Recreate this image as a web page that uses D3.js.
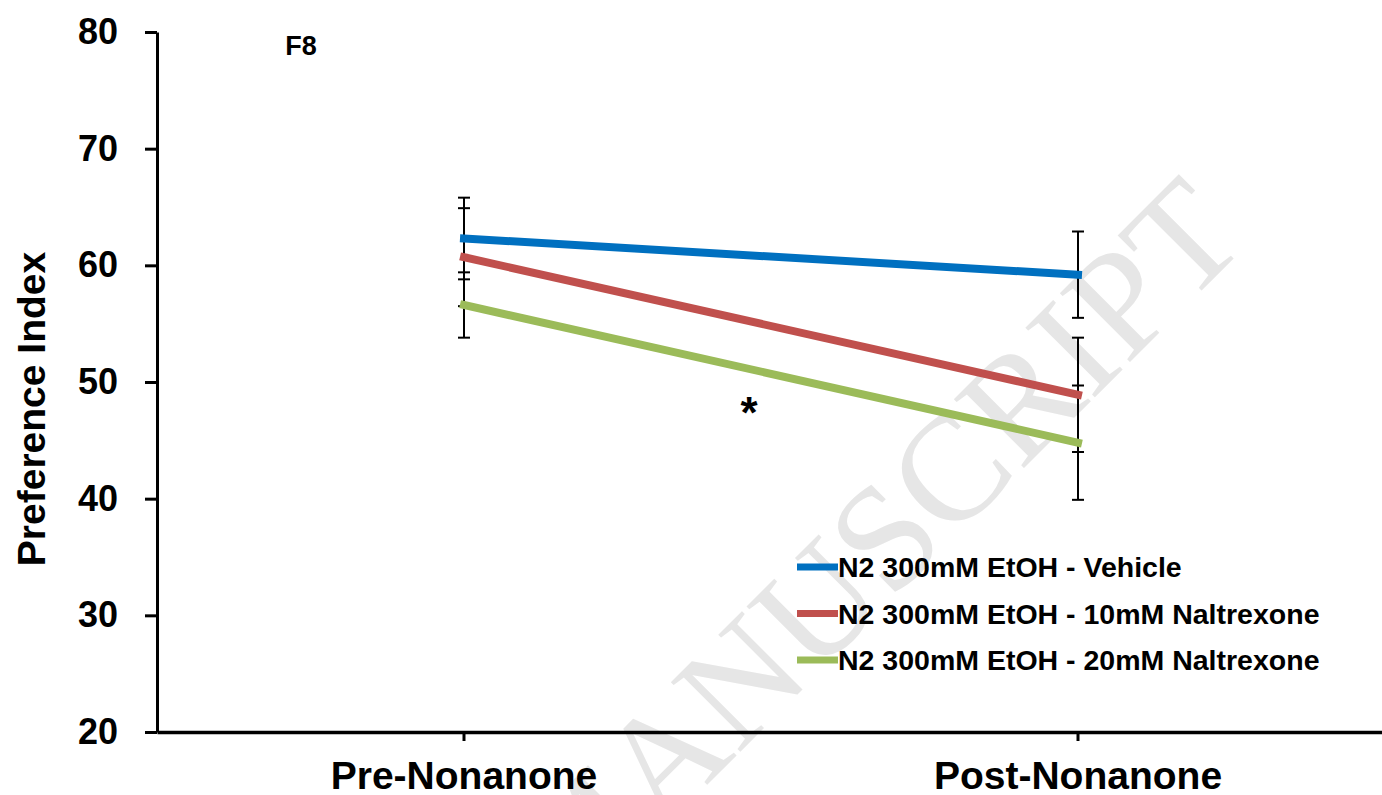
<!DOCTYPE html>
<html>
<head>
<meta charset="utf-8">
<script src="https://cdn.jsdelivr.net/npm/d3@7"></script>
<style>
  html, body { margin: 0; padding: 0; background: #fff; }
  svg { display: block; }
  text { font-family: "Liberation Sans", Arial, sans-serif; font-weight: bold; }
</style>
</head>
<body>
<svg id="chart" width="1382" height="795"></svg>
<script>
// ---- data ----
const categories = ["Pre-Nonanone", "Post-Nonanone"];
const seriesNames = [
  "N2 300mM EtOH - Vehicle",
  "N2 300mM EtOH - 10mM Naltrexone",
  "N2 300mM EtOH - 20mM Naltrexone"
];
const vehicleValues = [62.3, 59.2];
const vehicleErrors = [3.5, 3.7];
const nal10Values = [60.7, 48.9];
const nal10Errors = [4.2, 4.9];
const nal20Values = [56.6, 44.8];
const nal20Errors = [2.8, 4.9];
const yTickValues = [20, 30, 40, 50, 60, 70, 80];
const yTitle = "Preference Index";
const panelLabel = "F8";
const sigMark = "*";
const watermarkText = "ACCEPTED MANUSCRIPT";

const colors = ["#0070C0", "#C0504D", "#9BBB59"];
const series = [
  { name: seriesNames[0], values: vehicleValues, errors: vehicleErrors, color: colors[0] },
  { name: seriesNames[1], values: nal10Values, errors: nal10Errors, color: colors[1] },
  { name: seriesNames[2], values: nal20Values, errors: nal20Errors, color: colors[2] }
];

const svg = d3.select("#chart");

// scales
const x = d3.scaleBand().domain(categories).range([157, 1385]).padding(0);
const cx = c => x(c) + x.bandwidth() / 2;
const y = d3.scaleLinear().domain([20, 80]).range([732, 32]);

// watermark
svg.append("text")
  .attr("transform", "translate(1250,242) rotate(-45)")
  .attr("text-anchor", "end")
  .style("font-family", "'Liberation Serif', 'Times New Roman', serif")
  .style("font-weight", "normal")
  .style("font-size", "150px")
  .attr("fill", "#e6e6e6")
  .text(watermarkText);

// y axis
const yAxis = svg.append("g")
  .attr("transform", "translate(157,0)")
  .call(d3.axisLeft(y).tickValues(yTickValues).tickSize(12).tickSizeOuter(0).tickPadding(27));
yAxis.select(".domain").attr("stroke", "#000").attr("stroke-width", 3);
yAxis.selectAll(".tick line").attr("stroke", "#000").attr("stroke-width", 3);
yAxis.selectAll(".tick text")
  .attr("fill", "#000")
  .style("font-size", "36px")
  .style("font-family", "'Liberation Sans', Arial, sans-serif")
  .style("font-weight", "bold");

// x axis
const xAxis = svg.append("g")
  .attr("transform", "translate(0,732)")
  .call(d3.axisBottom(x).tickSize(9).tickSizeOuter(0).tickPadding(20));
xAxis.select(".domain").attr("stroke", "#000").attr("stroke-width", 3.5);
xAxis.selectAll(".tick line").attr("stroke", "#000").attr("stroke-width", 3);
xAxis.selectAll(".tick text")
  .attr("fill", "#000")
  .style("font-size", "39px")
  .style("font-family", "'Liberation Sans', Arial, sans-serif")
  .style("font-weight", "bold");

// y title
svg.append("text")
  .attr("transform", "translate(45,409) rotate(-90)")
  .attr("text-anchor", "middle")
  .style("font-size", "39px")
  .attr("fill", "#000")
  .text(yTitle);

// panel label
svg.append("text")
  .attr("x", 301).attr("y", 55)
  .attr("text-anchor", "middle")
  .style("font-size", "27px")
  .attr("fill", "#000")
  .text(panelLabel);

// error bars
const capHalf = 6;
series.forEach(s => {
  const g = svg.append("g");
  categories.forEach((c, i) => {
    const xc = cx(c);
    const top = y(s.values[i] + s.errors[i]);
    const bot = y(s.values[i] - s.errors[i]);
    g.append("line").attr("x1", xc).attr("x2", xc).attr("y1", top).attr("y2", bot)
      .attr("stroke", "#000").attr("stroke-width", 2);
    [top, bot].forEach(yy => {
      g.append("line").attr("x1", xc - capHalf).attr("x2", xc + capHalf)
        .attr("y1", yy).attr("y2", yy)
        .attr("stroke", "#000").attr("stroke-width", 2);
    });
  });
});

// lines
const line = d3.line().x(d => cx(d.c)).y(d => y(d.v));
series.forEach(s => {
  svg.append("path")
    .datum(categories.map((c, i) => ({ c, v: s.values[i] })))
    .attr("d", line)
    .attr("fill", "none")
    .attr("stroke", s.color)
    .attr("stroke-width", 8)
    .attr("stroke-linecap", "square");
});

// significance mark
svg.append("text")
  .attr("x", 749).attr("y", 428)
  .attr("text-anchor", "middle")
  .style("font-size", "44px")
  .attr("fill", "#000")
  .text(sigMark);

// legend
const legend = svg.append("g");
series.forEach((s, i) => {
  const ly = 567 + i * 46.5;
  legend.append("line")
    .attr("x1", 797).attr("x2", 838).attr("y1", ly).attr("y2", ly)
    .attr("stroke", s.color).attr("stroke-width", 7);
  legend.append("text")
    .attr("x", 838).attr("y", ly + 10)
    .style("font-size", "28.5px")
    .attr("fill", "#000")
    .text(s.name);
});
</script>
</body>
</html>
